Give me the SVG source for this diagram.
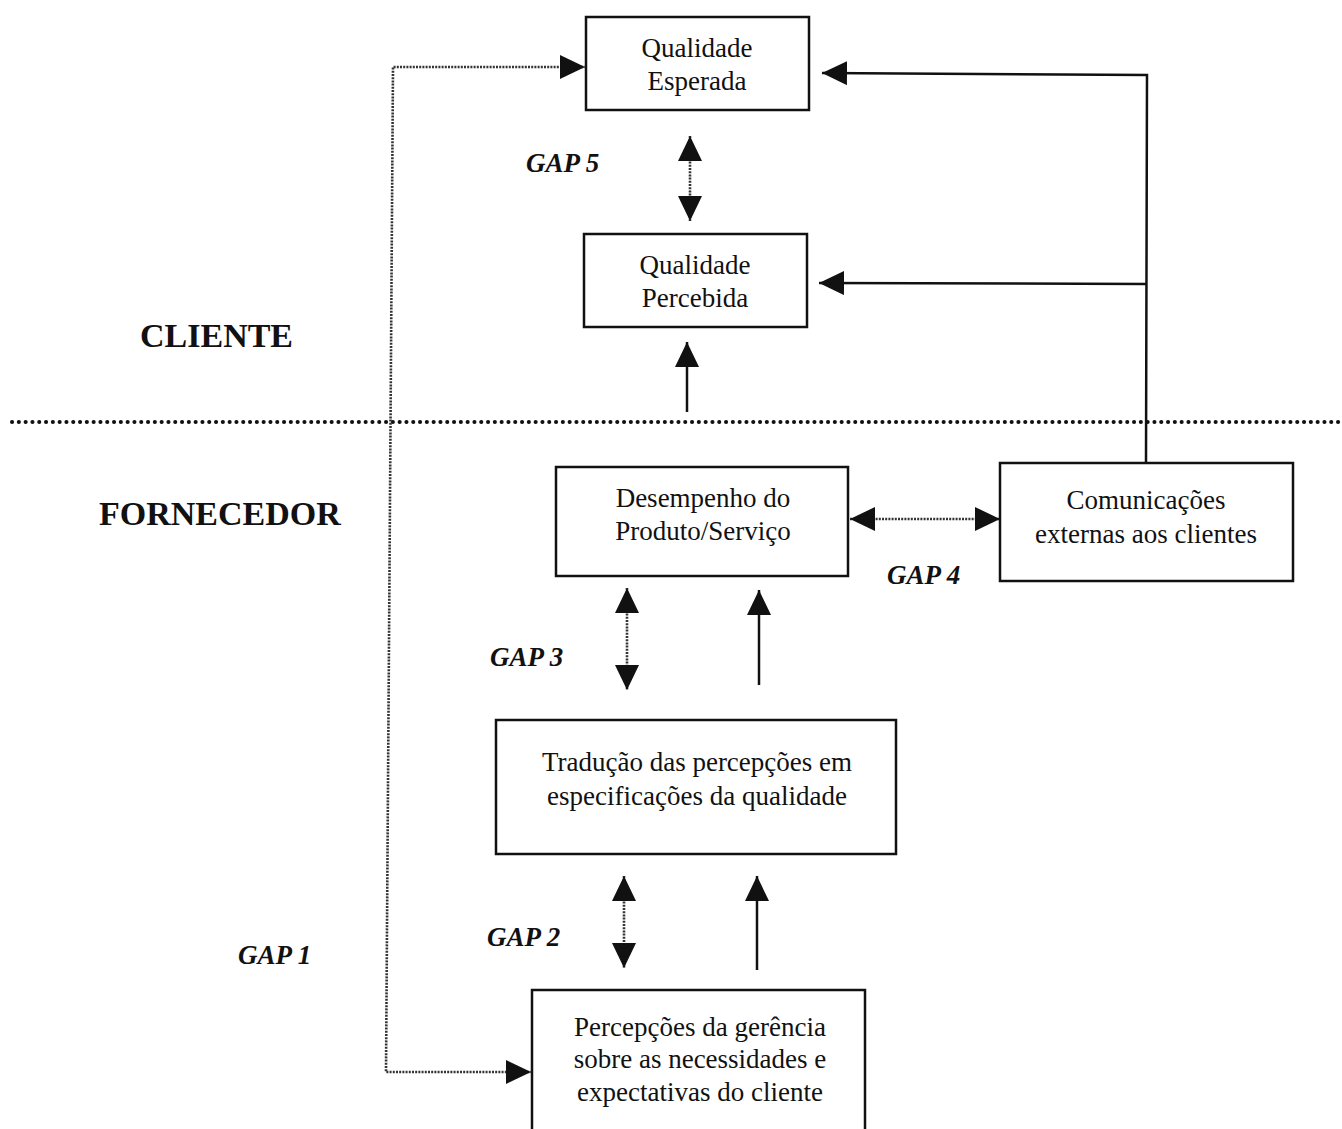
<svg xmlns="http://www.w3.org/2000/svg" width="1342" height="1129" viewBox="0 0 1342 1129">
  <style>
    .box { fill: #ffffff; stroke: #111111; stroke-width: 2.5; }
    .txt { font-family: "Liberation Serif", "Times New Roman", serif; font-size: 27px; fill: #111111; text-anchor: middle; }
    .side { font-family: "Liberation Serif", "Times New Roman", serif; font-size: 34px; font-weight: bold; fill: #111111; }
    .gap { font-family: "Liberation Serif", "Times New Roman", serif; font-size: 27px; font-weight: bold; font-style: italic; fill: #111111; }
    .solid { fill: none; stroke: #111111; stroke-width: 2.5; }
    .dot { fill: none; stroke: #333333; stroke-width: 2.6; stroke-dasharray: 2 1.2; }
    .sep { fill: none; stroke: #111111; stroke-width: 4; stroke-dasharray: 0.1 6.7; stroke-linecap: round; }
  </style>
  <defs>
    <marker id="head" markerUnits="userSpaceOnUse" markerWidth="26" markerHeight="24" viewBox="0 0 26 24" refX="25" refY="12" orient="auto-start-reverse">
      <path d="M0,0 L25,12 L0,24 z" fill="#111111"/>
    </marker>
  </defs>

  <rect width="1342" height="1129" fill="#ffffff"/>

  <!-- side labels and the client / supplier boundary -->
  <text class="side" x="140" y="347">CLIENTE</text>
  <text class="side" x="99" y="525">FORNECEDOR</text>
  <line class="sep" x1="12" y1="422" x2="1342" y2="422"/>

  <!-- gap labels -->
  <text class="gap" x="526" y="172">GAP 5</text>
  <text class="gap" x="887" y="584">GAP 4</text>
  <text class="gap" x="490" y="666">GAP 3</text>
  <text class="gap" x="487" y="946">GAP 2</text>
  <text class="gap" x="238" y="964">GAP 1</text>

  <g id="connectors">
    <!-- GAP 1 loop between management perceptions and expected quality -->
    <path class="dot" d="M562,67 L393,67 L386,1072 L508,1072"/>
    <line class="dot" x1="562" y1="67" x2="585" y2="67" marker-end="url(#head)"/>
    <line class="dot" x1="508" y1="1072" x2="531" y2="1072" marker-end="url(#head)"/>
    <!-- GAP 5 -->
    <line class="dot" x1="690" y1="136" x2="690" y2="221" marker-start="url(#head)" marker-end="url(#head)"/>
    <!-- service delivered up to perceived quality -->
    <line class="solid" x1="687" y1="412" x2="687" y2="342" marker-end="url(#head)"/>
    <!-- external communications feeding both quality boxes -->
    <path class="solid" d="M1146,463 L1147,75 L822,73" marker-end="url(#head)"/>
    <line class="solid" x1="1146" y1="284" x2="819" y2="283" marker-end="url(#head)"/>
    <!-- GAP 4 -->
    <line class="dot" x1="850" y1="519" x2="1000" y2="519" marker-start="url(#head)" marker-end="url(#head)"/>
    <!-- GAP 3 -->
    <line class="dot" x1="627" y1="588" x2="627" y2="690" marker-start="url(#head)" marker-end="url(#head)"/>
    <line class="solid" x1="759" y1="685" x2="759" y2="590" marker-end="url(#head)"/>
    <!-- GAP 2 -->
    <line class="dot" x1="624" y1="876" x2="624" y2="968" marker-start="url(#head)" marker-end="url(#head)"/>
    <line class="solid" x1="757" y1="970" x2="757" y2="876" marker-end="url(#head)"/>
  </g>

  <g id="qualidade-esperada">
    <rect class="box" x="586" y="17" width="223" height="93"/>
    <text class="txt" x="697" y="57">Qualidade</text>
    <text class="txt" x="697" y="90">Esperada</text>
  </g>

  <g id="qualidade-percebida">
    <rect class="box" x="584" y="234" width="223" height="93"/>
    <text class="txt" x="695" y="274">Qualidade</text>
    <text class="txt" x="695" y="307">Percebida</text>
  </g>

  <g id="desempenho">
    <rect class="box" x="556" y="467" width="292" height="109"/>
    <text class="txt" x="703" y="507">Desempenho do</text>
    <text class="txt" x="703" y="540">Produto/Serviço</text>
  </g>

  <g id="comunicacoes">
    <rect class="box" x="1000" y="463" width="293" height="118"/>
    <text class="txt" x="1146" y="509">Comunicações</text>
    <text class="txt" x="1146" y="543">externas aos clientes</text>
  </g>

  <g id="traducao">
    <rect class="box" x="496" y="720" width="400" height="134"/>
    <text class="txt" x="697" y="771">Tradução das percepções em</text>
    <text class="txt" x="697" y="805">especificações da qualidade</text>
  </g>

  <g id="percepcoes-gerencia">
    <rect class="box" x="532" y="990" width="333" height="150"/>
    <text class="txt" x="700" y="1036">Percepções da gerência</text>
    <text class="txt" x="700" y="1068">sobre as necessidades e</text>
    <text class="txt" x="700" y="1101">expectativas do cliente</text>
  </g>
</svg>
